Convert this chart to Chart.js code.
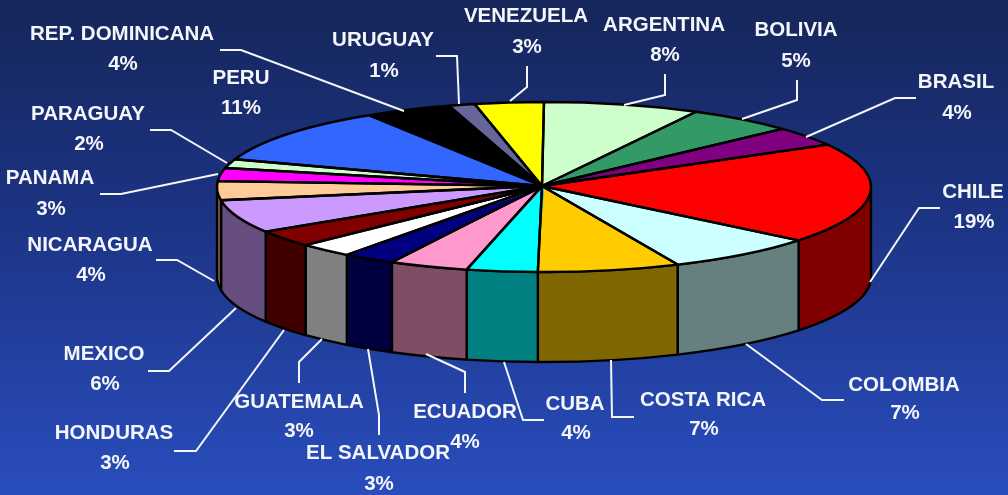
<!DOCTYPE html>
<html><head><meta charset="utf-8">
<style>
html,body{margin:0;padding:0;width:1008px;height:495px;overflow:hidden;background:linear-gradient(180deg,#16265a 0%,#1b3280 40%,#294dbd 100%);}
canvas{display:block}
</style>
<script src="https://cdn.jsdelivr.net/npm/chart.js@4"></script>
</head><body><canvas id="c" width="1008" height="495"></canvas>
<script>
const categories=["ARGENTINA","BOLIVIA","BRASIL","CHILE","COLOMBIA","COSTA RICA","CUBA","ECUADOR","EL SALVADOR","GUATEMALA","HONDURAS","MEXICO","NICARAGUA","PANAMA","PARAGUAY","PERU","REP. DOMINICANA","URUGUAY","VENEZUELA"];
const values=[7.7,5.3,3.7,19.1,7.5,7.0,3.5,3.9,2.6,2.7,3.2,6.3,3.6,2.5,1.7,10.7,4.3,1.3,3.4];
const percentLabels=["8%","5%","4%","19%","7%","7%","4%","4%","3%","3%","3%","6%","4%","3%","2%","11%","4%","1%","3%"];
const colors=["#ccffcc","#339966","#800080","#ff0000","#ccffff","#ffcc00","#00ffff","#ff99cc","#000080","#ffffff","#800000","#cc99ff","#ffcc99","#ff00ff","#ccffcc","#3366ff","#000000","#666699","#ffff00"];

// layout of the extruded ellipse and of the labels (pixels)
const cx=544,cy=187,rx=327,ry=85,depth=90;
const namePos=[[664,25],[796,30],[956,82],[973,192],[904,385],[703,400],[575,404],[465,412],[378,453],[299,402],[114,433],[104,354],[90,245],[50,178],[88,114],[241,78],[122,34],[383,40],[526,16]];
const pctPos=[[665,55],[796,61],[957,113],[974,222],[905,413],[704,429],[576,433],[465,442],[379,484],[299,431],[115,463],[105,384],[91,275],[51,209],[89,144],[241,108],[123,64],[384,71],[527,47]];
const leaders=[[[665,74],[665,95],[624,105]],[[797,80],[797,100],[742,119]],[[916,98],[895,98],[806,137]],[[940,208],[919,208],[870,282]],[[844,400],[822,400],[746,344]],[[634,417],[612,417],[611,360]],[[544,420],[523,420],[504,362]],[[465,393],[465,372],[426,354]],[[379,435],[379,415],[368,349]],[[299,383],[299,362],[322,339]],[[174,451],[196,451],[284,330]],[[148,371],[169,371],[236,308]],[[156,260],[177,260],[214,281]],[[100,194],[121,194],[218,174]],[[150,130],[171,130],[227,163]],null,[[220,50],[241,50],[404,111]],[[436,56],[457,56],[459,104]],[[527,66],[527,87],[510,101]]];

function halve(hex){
  const n=parseInt(hex.slice(1),16);
  const f=v=>Math.round(v/2);
  return `rgb(${f(n>>16&255)},${f(n>>8&255)},${f(n&255)})`;
}
const pie3d={
  id:'pie3d',
  beforeDatasetsDraw(chart){
    const ctx=chart.ctx, arcs=chart.getDatasetMeta(0).data;
    ctx.save();
    ctx.lineWidth=2.4;ctx.strokeStyle='#000';ctx.lineJoin='round';
    arcs.forEach((a,i)=>{
      let s=a.startAngle,e=a.endAngle;
      // the front of the wall is where the angle lies in 0..PI
      s=Math.max(s,0);e=Math.min(e,Math.PI);
      if(e<=s)return;
      ctx.beginPath();
      ctx.ellipse(cx,cy,rx,ry,0,s,e,false);
      ctx.ellipse(cx,cy+depth,rx,ry,0,e,s,true);
      ctx.closePath();
      ctx.fillStyle=halve(colors[i]);
      ctx.fill();ctx.stroke();
    });
    ctx.restore();
    // squash the library's round pie onto the ellipse
    const a0=arcs[0];
    ctx.save();
    ctx.translate(cx,cy);
    ctx.scale(rx/a0.outerRadius,ry/a0.outerRadius);
    ctx.translate(-a0.x,-a0.y);
  },
  afterDatasetsDraw(chart){
    const ctx=chart.ctx, arcs=chart.getDatasetMeta(0).data;
    ctx.restore();
    ctx.save();
    ctx.lineWidth=2.4;ctx.strokeStyle='#000';ctx.lineJoin='round';
    arcs.forEach(a=>{
      ctx.beginPath();
      ctx.moveTo(cx-2,cy-1);
      ctx.ellipse(cx,cy,rx,ry,0,a.startAngle,a.endAngle,false);
      ctx.closePath();
      ctx.stroke();
    });
    ctx.restore();
  },
  afterDraw(chart){
    const ctx=chart.ctx;
    ctx.save();
    ctx.strokeStyle='#f4f6fb';ctx.lineWidth=2;ctx.lineJoin='miter';
    leaders.forEach(l=>{
      if(!l)return;
      ctx.beginPath();
      l.forEach((p,k)=>k?ctx.lineTo(p[0],p[1]):ctx.moveTo(p[0],p[1]));
      ctx.stroke();
    });
    ctx.fillStyle='#f4f6fb';
    ctx.font='bold 20.5px "Liberation Sans"';
    ctx.textAlign='center';ctx.textBaseline='middle';
    categories.forEach((c,i)=>{
      ctx.fillText(c,namePos[i][0],namePos[i][1]);
      ctx.fillText(percentLabels[i],pctPos[i][0],pctPos[i][1]);
    });
    ctx.restore();
  }
};
new Chart(document.getElementById('c'),{
  type:'pie',
  data:{labels:categories,datasets:[{data:values,backgroundColor:colors,borderWidth:0,hoverOffset:0}]},
  options:{responsive:false,animation:false,layout:{padding:0},events:[],
    plugins:{legend:{display:false},title:{display:false},tooltip:{enabled:false}}},
  plugins:[pie3d]
});
</script>
</body></html>
